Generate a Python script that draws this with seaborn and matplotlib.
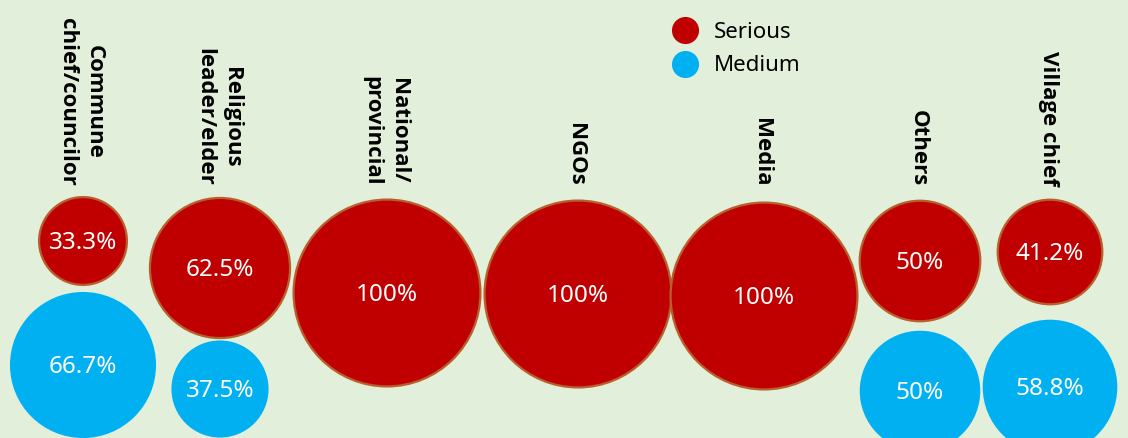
import pandas as pd
import matplotlib.pyplot as plt
import seaborn as sns
from matplotlib.lines import Line2D

# ============================
# Data
# ============================
categories = ["Commune\nchief/councilor", "Religious\nleader/elder", "National/\nprovincial",
              "NGOs", "Media", "Others", "Village chief"]
serious = [33.3, 62.5, 100, 100, 100, 50, 41.2]
medium = [66.7, 37.5, None, None, None, 50, 58.8]

# bubble layout (pixel-like units, y grows downward)
x_pos = [83, 220, 387, 578, 764, 920, 1050]
serious_y = [241, 268, 293, 294, 296, 261, 252]
medium_y = [365, 389, None, None, None, 391, 387]

red = "#C00000"
blue = "#00B0F0"
bg = "#E2EFDA"

df_s = pd.DataFrame({"x": x_pos, "y": serious_y, "value": serious})
df_m = pd.DataFrame({"x": x_pos, "y": medium_y, "value": medium}).dropna()

# ============================
# Plot
# ============================
sns.set_style("white")
plt.rcParams["font.family"] = ["Noto Sans", "DejaVu Sans"]
plt.rcParams["text.color"] = "black"

fig = plt.figure(figsize=(11.28, 4.38), dpi=100, facecolor=bg)
ax = fig.add_axes([0, 0, 1, 1])
ax.set_facecolor(bg)

size_kw = dict(size="value", sizes=(4000, 18100), size_norm=(33.3, 100), legend=False)
sns.scatterplot(data=df_m, x="x", y="y", color=blue, edgecolor="none", ax=ax, **size_kw)
sns.scatterplot(data=df_s, x="x", y="y", color=red, edgecolor="#B8602C", linewidth=1.6, ax=ax, **size_kw)

for _, r in df_s.iterrows():
    ax.text(r["x"], r["y"] + 2, f"{r['value']:g}%", color="white", fontsize=17.5,
            ha="center", va="center")
for _, r in df_m.iterrows():
    ax.text(r["x"], r["y"] + 2, f"{r['value']:g}%", color="white", fontsize=17.5,
            ha="center", va="center")

for x, cat in zip(x_pos, categories):
    ax.text(x - 2, 186, cat, rotation=270, fontsize=16, fontweight="bold", color="black",
            family=["Open Sans", "DejaVu Sans"],
            ha="center", va="bottom", linespacing=1.4)

handles = [Line2D([], [], marker="o", linestyle="none", markersize=19.5, color=red, markeredgewidth=0),
           Line2D([], [], marker="o", linestyle="none", markersize=19.5, color=blue, markeredgewidth=0)]
ax.legend(handles, ["Serious", "Medium"], loc="upper left", bbox_to_anchor=(0.57, 0.995),
          frameon=False, fontsize=16, handletextpad=0.3, labelspacing=0.55, labelcolor="black")

ax.set_xlim(0, 1128)
ax.set_ylim(438, 0)
ax.axis("off")

plt.savefig("out.png", dpi=100, facecolor=bg)
